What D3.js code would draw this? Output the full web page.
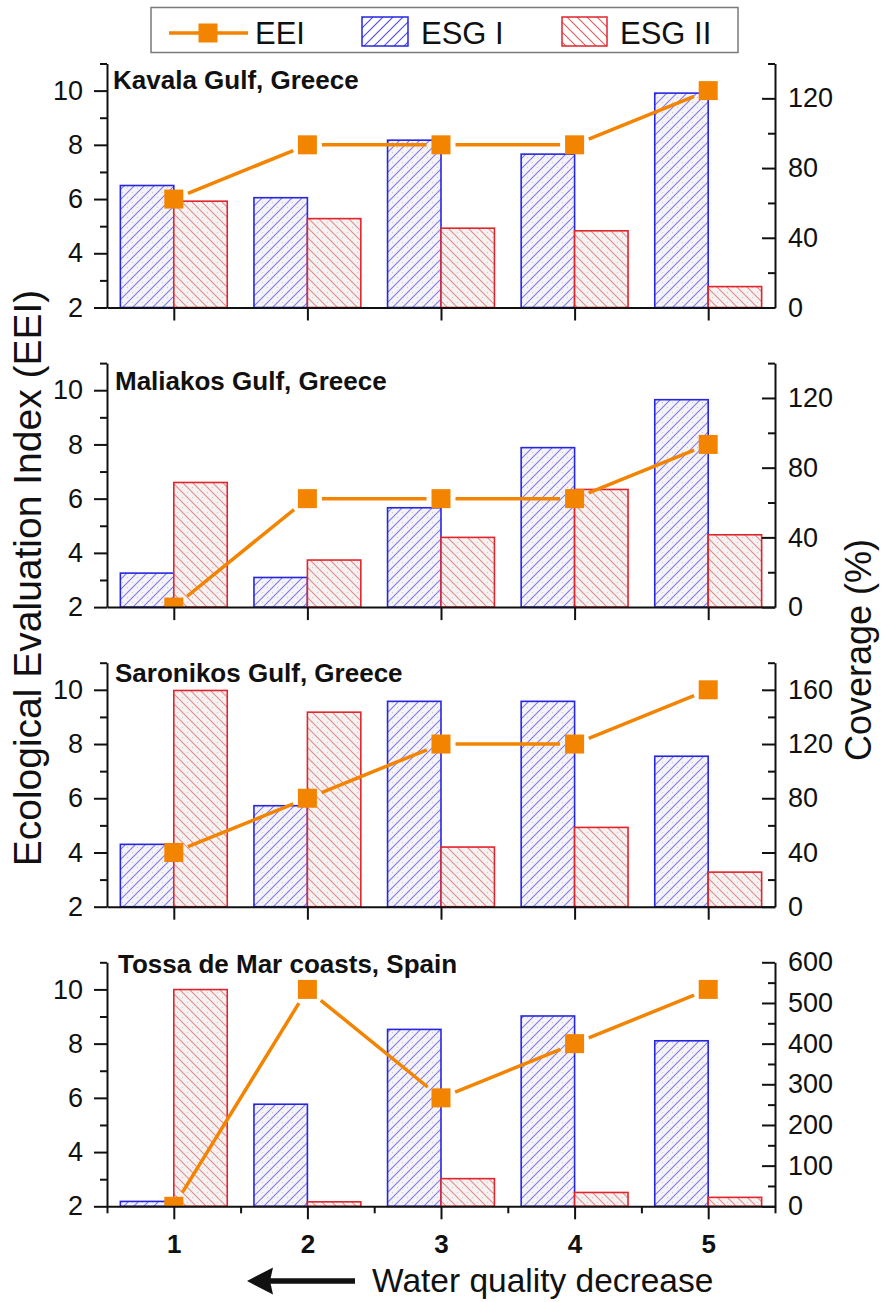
<!DOCTYPE html>
<html>
<head>
<meta charset="utf-8">
<script src="https://cdn.jsdelivr.net/npm/d3@7"></script>
<style>
  body { margin: 0; background: #fff; }
  svg { display: block; font-family: Arial, "Liberation Sans", sans-serif; }
</style>
</head>
<body>
<svg id="chart" width="881" height="1302"></svg>
<script>
// ---- data -------------------------------------------------------------
const categories = [1, 2, 3, 4, 5];
const siteNames = ["Kavala Gulf, Greece", "Maliakos Gulf, Greece", "Saronikos Gulf, Greece", "Tossa de Mar coasts, Spain"];

const eeiKavala = [6, 8, 8, 8, 10];
const esg1Kavala = [70, 63, 96, 88, 123];
const esg2Kavala = [61, 51, 45.5, 44, 12];

const eeiMaliakos = [2, 6, 6, 6, 8];
const esg1Maliakos = [19.5, 17, 57, 91.5, 119];
const esg2Maliakos = [71.5, 27, 40, 67.5, 41.5];

const eeiSaronikos = [4, 6, 8, 8, 10];
const esg1Saronikos = [46, 74.5, 151.5, 151.5, 111];
const esg2Saronikos = [159.5, 143.5, 44, 58.5, 25.5];

const eeiTossa = [2, 10, 6, 8, 10];
const esg1Tossa = [12, 251, 435, 468, 407];
const esg2Tossa = [533, 11, 68, 34, 22];

const eeiDomain = [2, 11];
const eeiTicks = [2, 4, 6, 8, 10];
const eeiMinorTicks = [3, 5, 7, 9, 11];
const coverageMax = [140, 140, 180, 600];
const coverageTicks = [
  [0, 40, 80, 120],
  [0, 40, 80, 120],
  [0, 40, 80, 120, 160],
  [0, 100, 200, 300, 400, 500, 600]
];
const coverageMinorTicks = [
  [20, 60, 100, 140],
  [20, 60, 100, 140],
  [20, 60, 100, 140, 180],
  [50, 150, 250, 350, 450, 550]
];
const legendLabels = ["EEI", "ESG I", "ESG II"];
const xTitle = "Water quality decrease";
const yTitle = "Ecological Evaluation Index (EEI)";
const y2Title = "Coverage (%)";

const panels = [
  { name: siteNames[0], eei: eeiKavala, esg1: esg1Kavala, esg2: esg2Kavala },
  { name: siteNames[1], eei: eeiMaliakos, esg1: esg1Maliakos, esg2: esg2Maliakos },
  { name: siteNames[2], eei: eeiSaronikos, esg1: esg1Saronikos, esg2: esg2Saronikos },
  { name: siteNames[3], eei: eeiTossa, esg1: esg1Tossa, esg2: esg2Tossa }
];

// ---- layout & style ---------------------------------------------------
const X0 = 107, X1 = 775;
const panelTop0 = 63.5, panelStep = 299.6, panelH = 244;
const titleX = [113, 115, 115, 118];
const titleDy = [25.5, 27, 19, 11];
const barW = 0.4;
const ORANGE = "#f28400";
const BLUE = "#2626e2";
const RED = "#e2252c";
const INK = "#111";
const markerSize = 19;
const lineGap = 5;
const tickFont = 27;

const svg = d3.select("#chart");
const defs = svg.append("defs");

function hatch(id, dir, lineColor, bg, dots, width) {
  const p = defs.append("pattern")
    .attr("id", id)
    .attr("patternUnits", "userSpaceOnUse")
    .attr("width", 10).attr("height", 10);
  p.append("rect").attr("width", 10).attr("height", 10).attr("fill", bg);
  if (dots) {
    const pts = dir === "/" ? [[2.5, 2.5], [7.5, 7.5]] : [[2.5, 7.5], [7.5, 2.5]];
    pts.forEach(([cx, cy]) => p.append("circle").attr("cx", cx).attr("cy", cy).attr("r", 0.7).attr("fill", "#d2cece"));
  }
  p.append("path")
    .attr("d", dir === "/" ? "M-2,2L2,-2M0,10L10,0M8,12L12,8" : "M-2,8L2,12M0,0L10,10M8,-2L12,2")
    .attr("stroke", lineColor).attr("stroke-width", width).attr("fill", "none");
}
hatch("hatchBlue", "/", "#7d7af2", "#f5f3f5", true, 1.1);
hatch("hatchRed", "\\", "#e08c8c", "#f6f2f2", true, 1.1);
hatch("hatchBlueLegend", "/", "#4a48ee", "#ffffff", false, 1.1);
hatch("hatchRedLegend", "\\", "#e25a5a", "#ffffff", false, 1.1);

const x = d3.scaleLinear().domain([0.5, 5.5]).range([X0, X1]);

function styleAxis(g) {
  g.attr("font-family", null).attr("font-size", null);
  g.selectAll("path.domain").attr("stroke", INK).attr("stroke-width", 2);
  g.selectAll(".tick line").attr("stroke", INK).attr("stroke-width", 2);
  g.selectAll(".tick text").attr("fill", INK);
}

panels.forEach((pd, i) => {
  const top = panelTop0 + i * panelStep;
  const bottom = top + panelH;
  const y = d3.scaleLinear().domain(eeiDomain).range([bottom, top]);
  const y2 = d3.scaleLinear().domain([0, coverageMax[i]]).range([bottom, top]);
  const g = svg.append("g");

  const clipId = "clip" + i;
  defs.append("clipPath").attr("id", clipId)
    .append("rect").attr("x", X0).attr("y", top).attr("width", X1 - X0).attr("height", panelH);

  // coverage bars
  const bars = g.append("g");
  bars.selectAll("rect.esg1").data(categories).join("rect")
    .attr("class", "esg1")
    .attr("x", c => x(c - barW))
    .attr("width", c => x(c) - x(c - barW))
    .attr("y", (c, k) => y2(pd.esg1[k]))
    .attr("height", (c, k) => y2(0) - y2(pd.esg1[k]))
    .attr("fill", "url(#hatchBlue)")
    .attr("stroke", BLUE).attr("stroke-width", 1.6);
  bars.selectAll("rect.esg2").data(categories).join("rect")
    .attr("class", "esg2")
    .attr("x", c => x(c))
    .attr("width", c => x(c + barW) - x(c))
    .attr("y", (c, k) => y2(pd.esg2[k]))
    .attr("height", (c, k) => y2(0) - y2(pd.esg2[k]))
    .attr("fill", "url(#hatchRed)")
    .attr("stroke", RED).attr("stroke-width", 1.6);

  // EEI line, with small gaps next to each marker
  const pts = categories.map((c, k) => [x(c), y(pd.eei[k])]);
  const half = markerSize / 2;
  const segs = [];
  for (let k = 0; k < pts.length - 1; k++) {
    const [ax, ay] = pts[k], [bx, by] = pts[k + 1];
    const dx = bx - ax, dy = by - ay, len = Math.hypot(dx, dy);
    const ux = dx / len, uy = dy / len;
    const cut = half / Math.max(Math.abs(ux), Math.abs(uy)) + lineGap;
    segs.push([[ax + ux * cut, ay + uy * cut], [bx - ux * cut, by - uy * cut]]);
  }
  const lineG = g.append("g").attr("clip-path", `url(#${clipId})`);
  lineG.selectAll("path.seg").data(segs).join("path")
    .attr("class", "seg")
    .attr("d", d => d3.line()(d))
    .attr("stroke", ORANGE).attr("stroke-width", 3.5).attr("fill", "none");
  lineG.selectAll("rect.mk").data(categories).join("rect")
    .attr("class", "mk")
    .attr("x", c => x(c) - half)
    .attr("y", (c, k) => y(pd.eei[k]) - half)
    .attr("width", markerSize).attr("height", markerSize)
    .attr("fill", ORANGE);

  // left axis (EEI)
  const gl = g.append("g").attr("transform", `translate(${X0},0)`)
    .call(d3.axisLeft(y).tickValues(eeiTicks).tickSize(13).tickSizeOuter(0).tickPadding(11).tickFormat(d3.format("d")));
  styleAxis(gl);
  gl.selectAll("text").attr("font-size", tickFont);
  const glm = g.append("g").attr("transform", `translate(${X0},0)`)
    .call(d3.axisLeft(y).tickValues(eeiMinorTicks).tickSize(7).tickSizeOuter(0).tickFormat(""));
  glm.select("path.domain").remove();
  styleAxis(glm);

  // right axis (coverage), ticks pointing inward
  const gr = g.append("g").attr("transform", `translate(${X1},0)`)
    .call(d3.axisRight(y2).tickValues(coverageTicks[i]).tickSize(-13).tickSizeOuter(0).tickPadding(13).tickFormat(d3.format("d")));
  styleAxis(gr);
  gr.selectAll("text").attr("font-size", tickFont);
  const grm = g.append("g").attr("transform", `translate(${X1},0)`)
    .call(d3.axisRight(y2).tickValues(coverageMinorTicks[i]).tickSize(-7).tickSizeOuter(0).tickFormat(""));
  grm.select("path.domain").remove();
  styleAxis(grm);

  // bottom axis
  const last = i === panels.length - 1;
  const gb = g.append("g").attr("transform", `translate(0,${bottom})`)
    .call(d3.axisBottom(x).tickValues(categories).tickSize(13).tickSizeOuter(0).tickPadding(15)
      .tickFormat(last ? d3.format("d") : ""));
  styleAxis(gb);
  gb.selectAll("text").attr("font-size", 26).attr("font-weight", "bold");
  if (last) {
    const minor = categories.map(c => c - 0.5).concat([categories[categories.length - 1] + 0.5]);
    const gbm = g.append("g").attr("transform", `translate(0,${bottom})`)
      .call(d3.axisBottom(x).tickValues(minor).tickSize(7).tickSizeOuter(0).tickFormat(""));
    gbm.select("path.domain").remove();
    styleAxis(gbm);
  }

  // site label
  g.append("text")
    .attr("x", titleX[i]).attr("y", top + titleDy[i])
    .attr("font-size", 26).attr("font-weight", "bold").attr("fill", INK)
    .text(pd.name);
});

// axis titles
svg.append("text")
  .attr("transform", "translate(41,578) rotate(-90)")
  .attr("text-anchor", "middle").attr("font-size", 39).attr("fill", INK)
  .text(yTitle);
svg.append("text")
  .attr("transform", "translate(871,650) rotate(-90)")
  .attr("text-anchor", "middle").attr("font-size", 36).attr("fill", INK)
  .text(y2Title);
svg.append("text")
  .attr("x", 372).attr("y", 1292)
  .attr("font-size", 33.5).attr("fill", INK)
  .text(xTitle);

// direction arrow next to the x title
svg.append("line")
  .attr("x1", 355).attr("y1", 1281).attr("x2", 268).attr("y2", 1281)
  .attr("stroke", INK).attr("stroke-width", 5.5);
svg.append("path")
  .attr("d", "M247,1281L273,1267.5L270,1281L273,1294.5Z")
  .attr("fill", INK);

// legend
const lg = svg.append("g");
lg.append("rect").attr("x", 151).attr("y", 7.5).attr("width", 587).attr("height", 45)
  .attr("fill", "#fff").attr("stroke", "#7a7a7a").attr("stroke-width", 1.5);
lg.append("line").attr("x1", 169).attr("x2", 248).attr("y1", 33).attr("y2", 33)
  .attr("stroke", ORANGE).attr("stroke-width", 3.5);
lg.append("rect").attr("x", 208 - markerSize / 2).attr("y", 33 - markerSize / 2)
  .attr("width", markerSize).attr("height", markerSize).attr("fill", ORANGE);
lg.append("rect").attr("x", 362).attr("y", 17).attr("width", 46).attr("height", 29)
  .attr("fill", "url(#hatchBlueLegend)").attr("stroke", BLUE).attr("stroke-width", 1.5);
lg.append("rect").attr("x", 562).attr("y", 17).attr("width", 45).attr("height", 29)
  .attr("fill", "url(#hatchRedLegend)").attr("stroke", RED).attr("stroke-width", 1.5);
const legendX = [255, 421, 620];
lg.selectAll("text.lab").data(legendLabels).join("text")
  .attr("class", "lab")
  .attr("x", (d, k) => legendX[k]).attr("y", 44)
  .attr("font-size", 31).attr("fill", INK)
  .text(d => d);
</script>
</body>
</html>
